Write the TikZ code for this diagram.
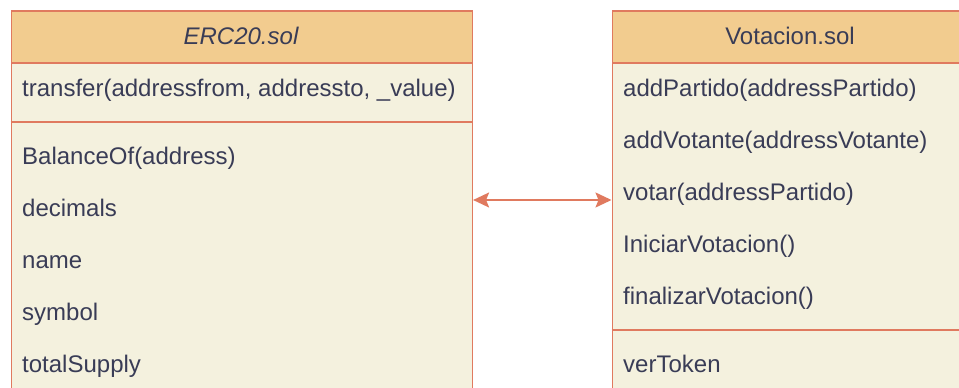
\documentclass[tikz,border=0pt]{standalone}
\usepackage{fontspec}
\setmainfont{Liberation Sans}
\usetikzlibrary{arrows.meta}
\definecolor{hdrfill}{HTML}{F2CC8F}
\definecolor{bodyfill}{HTML}{F4F1DE}
\definecolor{stroke}{HTML}{E07A5F}
\definecolor{ink}{HTML}{393C56}
\tikzset{
  hdrbox/.style={draw=stroke, fill=hdrfill, line width=1.6pt, anchor=north west, inner sep=0pt},
  bodybox/.style={draw=stroke, fill=bodyfill, line width=1.6pt, anchor=north west, inner sep=0pt},
  divider/.style={draw=stroke, line width=1.6pt},
  title/.style={text=ink, font=\fontsize{24}{28}\selectfont, anchor=base, inner sep=0pt},
  member/.style={text=ink, font=\fontsize{24}{28}\selectfont, anchor=base west, inner sep=0pt},
  assoc/.style={draw=stroke, line width=1.6pt, {Stealth[length=16pt,width=15pt,inset=3pt]}-{Stealth[length=16pt,width=15pt,inset=3pt]}}
}
\begin{document}
\begin{tikzpicture}[x=1pt,y=-1pt]
\useasboundingbox (0,0) rectangle (959,388);
\fill[white] (0,0) rectangle (959,388);
\begin{scope}
\clip (0,0) rectangle (959,388);
% ERC20 class
\node[hdrbox, minimum width=461pt, minimum height=52pt] (ercHead) at (10.5,10) {};
\node[bodybox, minimum width=461pt, minimum height=340pt] (ercBody) at (10.5,62) {};
\node[title] (ercTitle) at (241,44) {\itshape ERC20.sol};
\draw[divider] (ercBody.west |- 0,122) -- (ercBody.east |- 0,122);
\node[member] (ercTransfer) at (22,96) {transfer(addressfrom, addressto, \_value)};
\node[member] (ercBalance) at (22,164) {BalanceOf(address)};
\node[member] (ercDecimals) at (22,216) {decimals};
\node[member] (ercName) at (22,268) {name};
\node[member] (ercSymbol) at (22,320) {symbol};
\node[member] (ercSupply) at (22,372) {totalSupply};
% Votacion class
\node[hdrbox, minimum width=358pt, minimum height=52pt] (votHead) at (611.5,10) {};
\node[bodybox, minimum width=358pt, minimum height=340pt] (votBody) at (611.5,62) {};
\node[title] (votTitle) at (790,44) {Votacion.sol};
\draw[divider] (votBody.west |- 0,330) -- (votBody.east |- 0,330);
\node[member] (votAddPartido) at (623,96) {addPartido(addressPartido)};
\node[member] (votAddVotante) at (623,148) {addVotante(addressVotante)};
\node[member] (votVotar) at (623,200) {votar(addressPartido)};
\node[member] (votIniciar) at (623,252) {IniciarVotacion()};
\node[member] (votFinalizar) at (623,304) {finalizarVotacion()};
\node[member] (votToken) at (623,372) {verToken};
% association between the contracts
\coordinate (linkY) at (0,200);
\draw[assoc] (ercBody.east |- linkY) -- (votBody.west |- linkY);
\end{scope}
\end{tikzpicture}
\end{document}
